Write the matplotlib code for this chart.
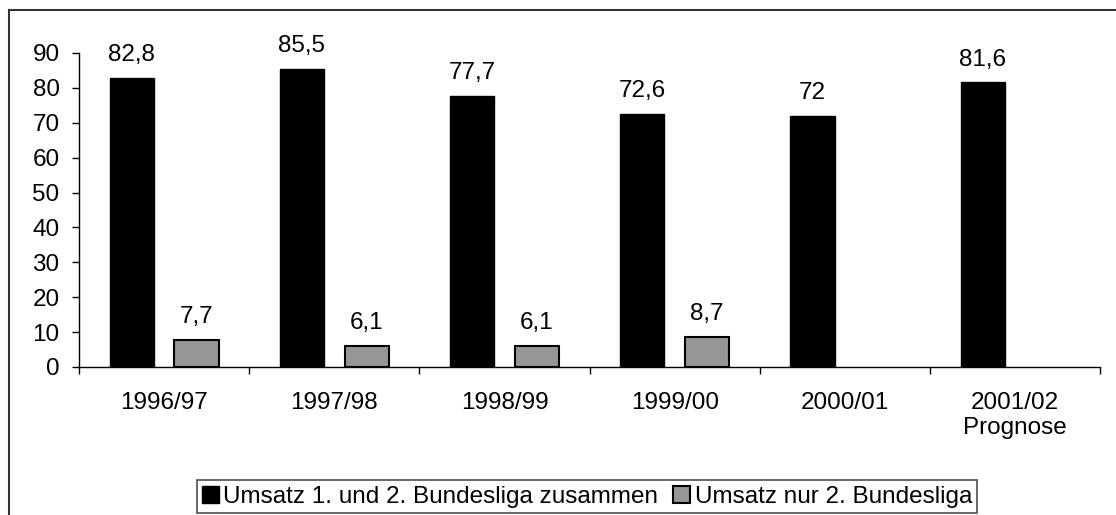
import matplotlib.pyplot as plt
from matplotlib.lines import Line2D
from matplotlib.patches import Patch
import numpy as np

plt.rcParams['font.family'] = ['Liberation Sans', 'DejaVu Sans']

seasons = ['1996/97', '1997/98', '1998/99', '1999/00', '2000/01', '2001/02\nPrognose']
total = [82.8, 85.5, 77.7, 72.6, 72.0, 81.6]
liga2 = [7.7, 6.1, 6.1, 8.7, None, None]

label_total = 'Umsatz 1. und 2. Bundesliga zusammen'
label_liga2 = 'Umsatz nur 2. Bundesliga'

FS = 17.5


def fmt(v):
    s = ('%.1f' % v).replace('.', ',')
    return s[:-2] if s.endswith(',0') else s


fig = plt.figure(figsize=(11.16, 5.15), dpi=100)
ax = fig.add_axes([0.0708, 0.2874, 0.915, 0.6097])

x = np.arange(len(seasons))
w = 0.26
off = 0.19

ax.bar(x - off, total, width=w, color='black', edgecolor='black', linewidth=1)
for xi, v in zip(x, total):
    ax.annotate(fmt(v), (xi - off, v), xytext=(0, 12), textcoords='offset points',
                ha='center', va='baseline', fontsize=FS)

for xi, v in zip(x, liga2):
    if v is None:
        continue
    ax.bar(xi + off, v, width=w, color='#969696', edgecolor='black', linewidth=1.5)
    ax.annotate(fmt(v), (xi + off, v), xytext=(0, 12), textcoords='offset points',
                ha='center', va='baseline', fontsize=FS)

ax.set_xlim(-0.5, len(seasons) - 0.5)
ax.set_ylim(0, 90)
ax.set_yticks(range(0, 91, 10))
ax.set_xticks(x)
ax.set_xticklabels(seasons, fontsize=FS, linespacing=1.15)
ax.set_xticks(np.arange(-0.5, len(seasons), 1), minor=True)
ax.tick_params(axis='x', which='major', length=0, pad=18)
ax.tick_params(axis='x', which='minor', length=5, width=1, direction='out')
ax.tick_params(axis='y', length=5, width=1, direction='out', pad=9, labelsize=FS)
ax.spines['top'].set_visible(False)
ax.spines['right'].set_visible(False)
for s in ('left', 'bottom'):
    ax.spines[s].set_linewidth(1)

# outer chart frame (only top and left visible)
fig.add_artist(Line2D([9 / 1116, 1.0], [1 - 10 / 515, 1 - 10 / 515], transform=fig.transFigure,
                      color='#333333', linewidth=1.5))
fig.add_artist(Line2D([9 / 1116, 9 / 1116], [0, 1 - 10 / 515], transform=fig.transFigure,
                      color='#333333', linewidth=1.5))

handles = [Patch(facecolor='black', edgecolor='black', label=label_total),
           Patch(facecolor='#969696', edgecolor='black', linewidth=1.5, label=label_liga2)]
leg = fig.legend(handles=handles, loc='lower center', bbox_to_anchor=(0.526, 0.004), ncol=2,
                 fontsize=FS, frameon=True, fancybox=False, handlelength=0.7, handleheight=0.7,
                 handletextpad=0.17, columnspacing=0.62, borderpad=0.22, borderaxespad=0)
leg.get_frame().set_edgecolor('#222222')
leg.get_frame().set_linewidth(1.2)

plt.savefig('out.png', dpi=100)
